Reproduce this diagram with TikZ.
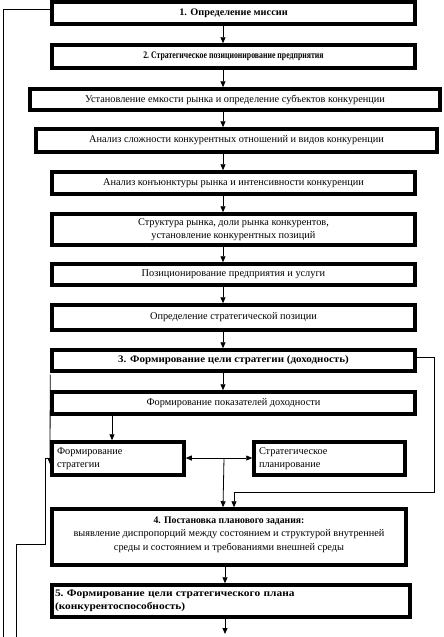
\documentclass[tikz,border=0pt]{standalone}
\usepackage{fontspec}
\setmainfont{Liberation Serif}
\newfontfamily\headfont{Liberation Serif}
\usetikzlibrary{arrows.meta, calc}
\tikzset{every node/.style={font=\fontsize{10.3}{13.5}\selectfont}}
\tikzset{
  box/.style={draw, line width=3.5pt, inner xsep=5pt, inner ysep=2pt, align=center},
  link/.style={line width=0.8pt},
  head/.style={font=\fontsize{10}{13.5}\selectfont\headfont\bfseries\addfontfeature{FakeStretch=#1}},
  head/.default=1,
}

\begin{document}
\begin{tikzpicture}[x=1pt, y=-1pt, >={Triangle[length=6pt, width=5pt]}]
  % Bounding box of the sheet
  \path[use as bounding box] (0,0) rectangle (444,637);

  % Main column of stages.
  \node[box, head=1.03, minimum width=363pt, minimum height=22pt] (b1) at (233.5,13)
    {1. Определение миссии};
  \node[box, head=0.78, minimum width=363pt, minimum height=23pt] (b2) at (233.5,56.5)
    {2.\ Стратегическое позиционирование предприятия};
  \node[box, minimum width=410pt, minimum height=21pt] (b3) at (235,99.5)
    {Установление емкости рынка и определение субъектов конкуренции};
  \node[box, minimum width=401pt, minimum height=23pt] (b4) at (236.5,140.5)
    {Анализ сложности конкурентных отношений и видов конкуренции};
  \node[box, minimum width=363pt, minimum height=22pt] (b5) at (233.5,183)
    {Анализ конъюнктуры рынка и интенсивности конкуренции};
  \node[box, minimum width=363pt, minimum height=31pt] (b6) at (233.5,229.5)
    {Структура рынка, доли рынка конкурентов,\\установление конкурентных позиций};
  \node[box, minimum width=363pt, minimum height=21pt] (b7) at (233.5,274.5)
    {Позиционирование предприятия и услуги};
  \node[box, minimum width=363pt, minimum height=25pt] (b8) at (233.5,317.5)
    {Определение стратегической позиции};
  \node[box, head=1.1, minimum width=363pt, minimum height=21pt] (b9) at (233.5,360.5)
    {3. Формирование цели стратегии (доходность)};
  \node[box, minimum width=363pt, minimum height=22pt] (b10) at (233.5,403)
    {Формирование показателей доходности};

  % Strategy and planning.
  \node[box, align=left, text width=122pt, minimum height=33pt] (b11) at (118,458.5)
    {Формирование\\стратегии};
  \node[box, align=left, text width=141pt, minimum height=33pt] (b12) at (329.5,458.5)
    {Стратегическое\\планирование};

  % Planning task and goal.
  \node[box, minimum width=354pt, minimum height=56pt, text depth=7pt] (b13) at (229,537)
    {{\fontsize{10}{13.5}\selectfont\headfont\bfseries\addfontfeature{FakeStretch=0.97}4. Постановка планового задания:}\\
     выявление диспропорций между состоянием и структурой внутренней\\
     среды и состоянием и требованиями внешней среды};
  \node[box, head=1.14, align=left, inner xsep=3pt, text width=352pt, minimum height=32pt] (b14) at (231,601)
    {5.\ Формирование цели стратегического плана\\(конкурентоспособность)};

  % Helper coordinates.
  \coordinate (ax) at (223,0);
  \coordinate (bx) at (112,0);
  \coordinate (cx) at (234,0);
  \coordinate (fb1) at (3,637);
  \coordinate (fb2) at (16,637);
  \coordinate (out) at (225,634);

  % Arrows down the column.
  \foreach \a/\b in {b1/b2, b2/b3, b3/b4, b4/b5, b5/b6, b6/b7, b7/b8, b8/b9, b9/b10}
    \draw[link, ->] (\a.south -| ax) -- (\b.north -| ax);
  \draw[link, ->] (b10.south -| bx) -- (b11.north -| bx);
  \draw[link, <->] (b11.east |- 0,458) -- (b12.west |- 0,458);
  \draw[link, ->] (224,458) -- (b13.north -| ax);
  \draw[link, ->] (b13.south -| out) -- (b14.north -| out);
  \draw[link, ->] (b14.south -| out) -- (out);

  % Feedback lines.
  \draw[link] (b1.west |- 0,9) -| (fb1);
  \draw[link, ->] (b9.south west) ++(0,1.75) -- (50,464);
  \draw[link] (fb2) |- (45,544) |- (50,458);
  \draw[link, ->] (b9.east |- 0,357) -| (434,492) -| (b13.north -| cx);
\end{tikzpicture}
\end{document}
